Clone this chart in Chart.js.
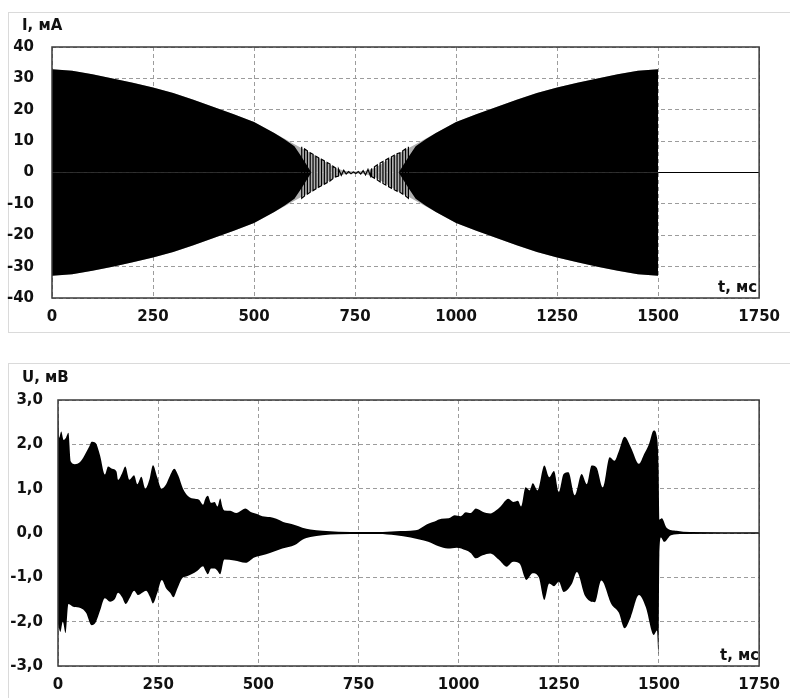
<!DOCTYPE html>
<html>
<head>
<meta charset="utf-8">
<script src="https://cdn.jsdelivr.net/npm/chart.js@4.4.1/dist/chart.umd.min.js"></script>
<style>
  body { margin: 0; background: #fff; width: 790px; height: 698px; overflow: hidden; position: relative; }
  .panel { position: absolute; border: 1px solid #dadada; box-sizing: border-box; }
  canvas { position: absolute; left: 0; }
  .lbl { position: absolute; font: bold 15px 'DejaVu Sans', sans-serif; line-height: 15px; color: #111; white-space: nowrap; }
</style>
</head>
<body>
<div class="panel" style="left:8px; top:12px; width:800px; height:321px;"></div>
<div class="panel" style="left:8px; top:363px; width:800px; height:350px;"></div>
<canvas id="currentChart" width="790" height="340" style="top:0"></canvas>
<canvas id="voltageChart" width="790" height="348" style="top:350px"></canvas>
<div class="lbl" style="left:22px; top:18px;">I, мА</div>
<div class="lbl" style="left:718px; top:280px;">t, мс</div>
<div class="lbl" style="left:22px; top:370px;">U, мВ</div>
<div class="lbl" style="left:720px; top:648px;">t, мс</div>
<script>
// axes
const tTicks = [0, 250, 500, 750, 1000, 1250, 1500, 1750];
const iTicks = [-40, -30, -20, -10, 0, 10, 20, 30, 40];
const uTicks = [-3, -2, -1, 0, 1, 2, 3];
const uTickLabels = ['-3,0', '-2,0', '-1,0', '0,0', '1,0', '2,0', '3,0'];

// current, mA: envelope of the oscillation
const iEnvT = [0, 50, 100, 150, 200, 250, 300, 350, 400, 450, 500, 550, 600, 650, 700, 725, 750,
  775, 800, 850, 900, 950, 1000, 1050, 1100, 1150, 1200, 1250, 1300, 1350, 1400, 1450, 1500];
const iEnvUp = [32.9, 32.4, 31.3, 30.0, 28.6, 27.1, 25.3, 23.2, 20.9, 18.6, 16.1, 12.6, 9.0, 5.5, 1.5, 0.5, 0.3,
  0.5, 1.5, 5.5, 9.0, 12.6, 16.1, 18.6, 20.9, 23.2, 25.3, 27.1, 28.6, 30.0, 31.3, 32.4, 32.9];
const iEnvDn = [-32.9, -32.4, -31.3, -30.0, -28.6, -27.1, -25.3, -23.2, -20.9, -18.6, -16.1, -12.6, -9.0, -5.5, -1.5, -0.5, -0.3,
  -0.5, -1.5, -5.5, -9.0, -12.6, -16.1, -18.6, -20.9, -23.2, -25.3, -27.1, -28.6, -30.0, -31.3, -32.4, -32.9];

// current, mA: region where the cycles merge into solid black
const iSolidT = [0, 50, 100, 150, 200, 250, 300, 350, 400, 450, 500, 550, 575, 600, 615, 630, 642,
  858, 870, 885, 900, 925, 950, 1000, 1050, 1100, 1150, 1200, 1250, 1300, 1350, 1400, 1450, 1500];
const iSolidUp = [32.9, 32.4, 31.3, 30.0, 28.6, 27.1, 25.3, 23.2, 20.9, 18.6, 16.1, 12.6, 10.6, 8.4, 5.5, 2.5, 0,
  0, 2.5, 5.5, 8.4, 10.6, 12.6, 16.1, 18.6, 20.9, 23.2, 25.3, 27.1, 28.6, 30.0, 31.3, 32.4, 32.9];
const iSolidDn = [-32.9, -32.4, -31.3, -30.0, -28.6, -27.1, -25.3, -23.2, -20.9, -18.6, -16.1, -12.6, -10.6, -8.4, -5.5, -2.5, 0,
  0, -2.5, -5.5, -8.4, -10.6, -12.6, -16.1, -18.6, -20.9, -23.2, -25.3, -27.1, -28.6, -30.0, -31.3, -32.4, -32.9];

// current, mA: separate cycles around the minimum
const iBurstT = [618, 618, 625, 625, 632, 632, 639, 639,
  646, 646, 653, 653, 660, 660, 667, 667, 674, 674, 681, 681, 688, 688, 695, 695, 702, 702, 709, 709,
  716, 722, 728, 734, 740, 746, 752, 758, 764, 770, 776, 782, 788,
  791, 791, 798, 798, 805, 805, 812, 812, 819, 819, 826, 826, 833, 833, 840, 840, 847, 847, 854, 854,
  861, 861, 868, 868, 875, 875, 882, 882];
const iBurstV = [8.2, -8.2, -7.5, 7.5, 6.9, -6.9, -6.3, 6.3,
  5.8, -5.8, -5.2, 5.2, 4.7, -4.7, -4.2, 4.2, 3.7, -3.7, -3.2, 3.2, 2.7, -2.7, -2.0, 2.0, 1.4, -1.4, -1.1, 1.1,
  -0.9, 0.7, -0.5, 0.3, -0.4, 0.2, -0.3, 0.3, -0.5, 0.6, -0.8, 1.0, -1.1,
  1.3, -1.3, -1.8, 1.8, 2.4, -2.4, -3.0, 3.0, 3.5, -3.5, -4.0, 4.0, 4.5, -4.5, -5.0, 5.0, 5.5, -5.5, -6.0, 6.0,
  6.3, -6.3, -6.9, 6.9, 7.5, -7.5, -8.2, 8.2];

// current after switch-off
const iTailT = [1500, 1750];
const iTailV = [0, 0];

// voltage, mV: upper envelope
const uTopT = [0, 3, 8, 14, 20, 26, 32, 42, 55, 66, 78, 84, 94, 105, 117, 125, 135, 146, 150, 160, 168, 178,
  190, 198, 208, 218, 228, 237, 248, 258, 270, 280, 290, 300, 312,
  325, 342, 352, 362, 368, 374, 382, 391, 398, 405, 410, 415, 430, 445, 468, 480, 497, 510, 529, 545,
  562, 575, 591, 610, 630, 660, 700, 760, 800, 843, 892, 924, 940, 957, 975, 990, 1005, 1018, 1030, 1043,
  1060, 1079, 1092, 1104, 1124, 1136, 1148, 1156, 1167, 1177, 1185, 1197, 1214, 1226, 1238, 1250, 1262,
  1274, 1290, 1307, 1320, 1332, 1344, 1360, 1377, 1389, 1400, 1414, 1430, 1450, 1463, 1475, 1487, 1495,
  1499, 1501, 1507, 1519, 1544, 1577, 1750];
const uTopV = [2.8, 2.15, 2.29, 2.1, 2.15, 2.26, 1.61, 1.55, 1.6, 1.75, 1.95, 2.06, 2.03, 1.75, 1.32, 1.5,
  1.45, 1.39, 1.2, 1.35, 1.5, 1.2, 1.3, 1.1, 1.27, 1.0, 1.2, 1.53, 1.25, 1.0, 1.1, 1.3, 1.45, 1.3, 1.0,
  0.83, 0.77, 0.75, 0.64, 0.78, 0.84, 0.68, 0.7, 0.6, 0.78, 0.6, 0.51, 0.5, 0.45, 0.55, 0.48, 0.43, 0.38,
  0.36, 0.32, 0.25, 0.22, 0.18, 0.12, 0.08, 0.05, 0.03, 0.02, 0.02, 0.04, 0.06, 0.21, 0.26, 0.32, 0.33,
  0.4, 0.38, 0.47, 0.45, 0.55, 0.48, 0.44, 0.5, 0.59, 0.77, 0.7, 0.73, 0.6, 1.03, 0.96, 1.12, 0.96, 1.52,
  1.26, 1.4, 0.92, 1.33, 1.37, 0.85, 1.33, 1.1, 1.52, 1.48, 1.03, 1.71, 1.63, 1.85, 2.17, 1.93, 1.56, 1.78,
  2.0, 2.31, 2.16, 1.5, 0.3, 0.33, 0.12, 0.05, 0.02, 0.015];

// voltage, mV: lower envelope
const uBotT = [0, 6, 12, 19, 26, 40, 56, 70, 84, 95, 105, 117, 130, 142, 150, 160, 169, 180, 190, 200,
  210, 220, 230, 237, 248, 259, 270, 280, 288, 298, 309,
  320, 333, 348, 362, 368, 374, 382, 391, 398, 405, 415, 440, 468, 490, 510, 529, 560, 591, 610, 630,
  660, 700, 760, 800, 843, 880, 924, 950, 973, 995, 1018, 1030, 1043, 1060, 1079, 1100, 1120, 1136, 1152,
  1169, 1185, 1200, 1214, 1226, 1238, 1250, 1262, 1283, 1295, 1315, 1340, 1356, 1381, 1400, 1414, 1430,
  1450, 1467, 1487, 1495, 1499, 1501, 1505, 1513, 1530, 1560, 1750];
const uBotV = [-2.05, -2.23, -2.0, -2.26, -1.6, -1.67, -1.69, -1.8, -2.08, -2.0, -1.75, -1.47, -1.55, -1.49,
  -1.35, -1.45, -1.6, -1.45, -1.3, -1.4, -1.35, -1.3, -1.45, -1.59, -1.35, -1.06, -1.25, -1.35, -1.45,
  -1.25, -1.03,
  -0.98, -0.93, -0.85, -0.75, -0.85, -0.93, -0.8, -0.8, -0.85, -0.93, -0.6, -0.62, -0.67, -0.55, -0.5,
  -0.45, -0.35, -0.27, -0.15, -0.09, -0.05, -0.03, -0.02, -0.02, -0.05, -0.1, -0.2, -0.3, -0.35, -0.33,
  -0.39, -0.45, -0.57, -0.5, -0.46, -0.6, -0.76, -0.65, -0.69, -1.06, -0.91, -1.0, -1.51, -1.14, -1.2,
  -1.1, -1.33, -1.14, -0.88, -1.41, -1.56, -1.07, -1.6, -1.8, -2.15, -1.89, -1.4, -1.67, -2.3, -2.2,
  -2.75, -0.5, -0.1, -0.2, -0.05, -0.02, -0.015];

const pts = (xs, ys) => xs.map((x, i) => ({ x: x, y: ys[i] }));

Chart.defaults.font.family = "'DejaVu Sans', sans-serif";
Chart.defaults.font.size = 15;
Chart.defaults.font.weight = 'bold';
Chart.defaults.color = '#111';

const plotFrame = {
  id: 'plotFrame',
  afterDraw(chart) {
    const { ctx, chartArea: a } = chart;
    ctx.save();
    ctx.strokeStyle = '#3a3a3a';
    ctx.lineWidth = 1.5;
    ctx.strokeRect(a.left, a.top, a.right - a.left, a.bottom - a.top);
    ctx.restore();
  }
};

function area(data, color, order, smooth) {
  const ds = { data: data, borderWidth: 0, borderColor: color, backgroundColor: color,
    fill: 'origin', pointRadius: 0, tension: 0, order: order };
  if (smooth) ds.cubicInterpolationMode = 'monotone';
  return ds;
}

function trace(data, color, width, order) {
  return { data: data, borderWidth: width, borderColor: color, fill: false,
    pointRadius: 0, tension: 0, order: order };
}

function makeOptions(yTicks, yLabels, yMin, yMax, yWidth, yPad, xHeight, pad) {
  const grid = { color: '#9c9c9c', lineWidth: 1, drawTicks: false };
  return {
    responsive: false,
    animation: false,
    layout: { padding: pad },
    plugins: { legend: { display: false }, tooltip: { enabled: false } },
    scales: {
      x: {
        type: 'linear', min: 0, max: 1750,
        afterBuildTicks: s => { s.ticks = tTicks.map(v => ({ value: v })); },
        afterFit: s => { s.height = xHeight; },
        ticks: { padding: 10, maxRotation: 0, callback: v => String(v) },
        grid: grid,
        border: { display: false, dash: [4, 3] }
      },
      y: {
        min: yMin, max: yMax,
        afterBuildTicks: s => { s.ticks = yTicks.map(v => ({ value: v })); },
        afterFit: s => { s.width = yWidth; },
        ticks: { padding: yPad, callback: (v, i) => yLabels[i] },
        grid: grid,
        border: { display: false, dash: [4, 3] }
      }
    }
  };
}

new Chart(document.getElementById('currentChart'), {
  type: 'line',
  data: {
    datasets: [
      area(pts(iEnvT, iEnvUp), '#b0b0b0', 4),
      area(pts(iEnvT, iEnvDn), '#b0b0b0', 4),
      area(pts(iSolidT, iSolidUp), '#000', 3),
      area(pts(iSolidT, iSolidDn), '#000', 3),
      trace(pts(iBurstT, iBurstV), '#000', 1.2, 2),
      trace(pts(iTailT, iTailV), '#000', 1.2, 1)
    ]
  },
  options: makeOptions(iTicks, iTicks.map(String), -40, 40, 52, 18, 42,
    { left: 0, top: 47, right: 19, bottom: 0 }),
  plugins: [plotFrame]
});

new Chart(document.getElementById('voltageChart'), {
  type: 'line',
  data: {
    datasets: [
      area(pts(uTopT, uTopV), '#000', 2, true),
      area(pts(uBotT, uBotV), '#000', 2, true)
    ]
  },
  options: makeOptions(uTicks, uTickLabels, -3, 3, 58, 15, 32,
    { left: 0, top: 50, right: 20, bottom: 0 }),
  plugins: [plotFrame]
});
</script>
</body>
</html>
